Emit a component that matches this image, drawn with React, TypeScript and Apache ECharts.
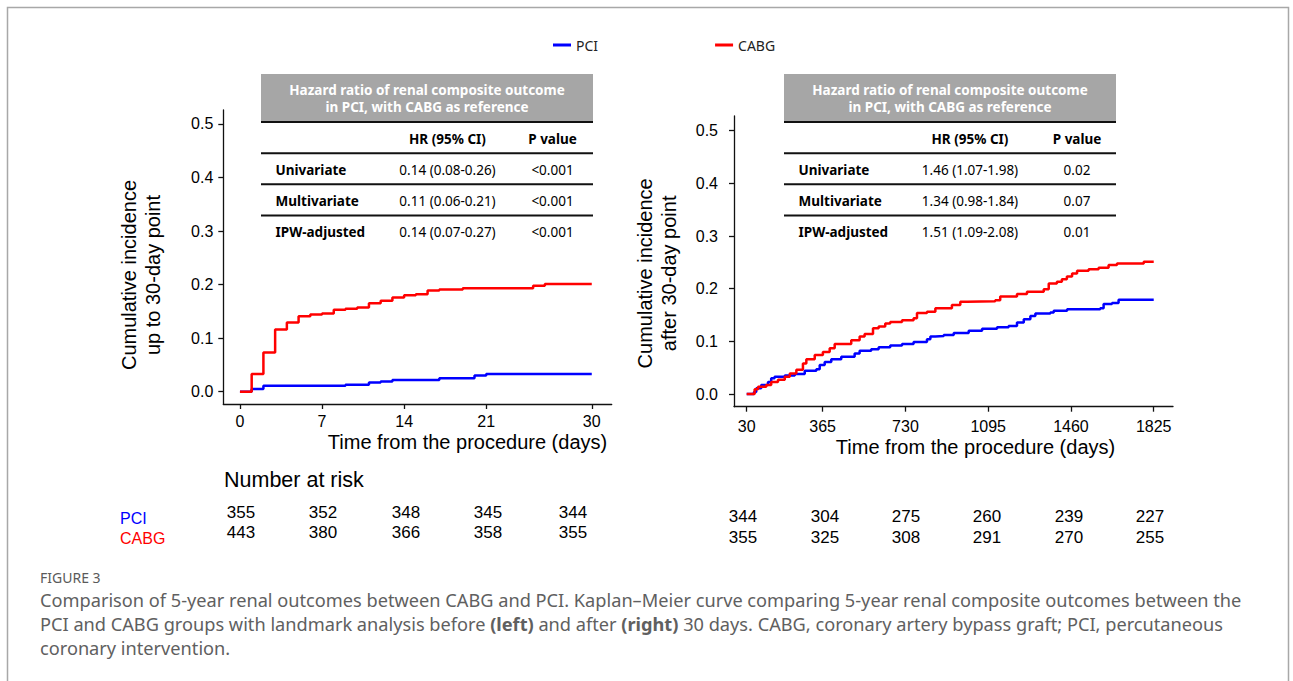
import React, { useEffect, useRef } from "react";
import * as echarts from "echarts";

// ---------- Data ----------
const seriesNames = ["PCI", "CABG"];
const seriesColors = ["#0000ff", "#ff0000"];

// Left panel (landmark up to 30 days)
const leftPciDays = [0, 1, 2, 9, 11, 12, 13, 17, 20, 21, 30];
const leftPciInc = [0, 0.005, 0.011, 0.013, 0.017, 0.019, 0.022, 0.025, 0.03, 0.033, 0.033];
const leftCabgDays = [0, 1, 2, 3, 4, 5, 6, 7, 8, 9, 10, 11, 12, 13, 14, 15, 16, 17, 19, 25, 26, 30];
const leftCabgInc = [0, 0.033, 0.073, 0.116, 0.129, 0.141, 0.144, 0.146, 0.153, 0.155, 0.157, 0.165, 0.17, 0.176, 0.18, 0.182, 0.189, 0.191, 0.193, 0.198, 0.201, 0.201];

// Right panel (after 30 days)
const rightPciDays = [30, 62, 72, 94, 124, 138, 153, 198, 242, 286, 337, 352, 374, 403, 447, 506, 528, 579, 612, 663, 715, 766, 825, 840, 862, 899, 943, 1009, 1068, 1134, 1185, 1222, 1252, 1281, 1303, 1369, 1384, 1443, 1589, 1604, 1641, 1670, 1825];
const rightPciInc = [0, 0.004, 0.011, 0.017, 0.023, 0.03, 0.033, 0.035, 0.038, 0.044, 0.047, 0.055, 0.061, 0.066, 0.071, 0.077, 0.082, 0.085, 0.089, 0.092, 0.095, 0.099, 0.104, 0.109, 0.11, 0.112, 0.116, 0.12, 0.124, 0.127, 0.129, 0.136, 0.142, 0.148, 0.153, 0.155, 0.158, 0.161, 0.163, 0.171, 0.173, 0.179, 0.179];
const rightCabgDays = [30, 65, 80, 116, 138, 168, 198, 220, 249, 278, 293, 330, 366, 396, 418, 491, 528, 550, 587, 612, 641, 663, 715, 766, 781, 825, 862, 935, 972, 1002, 1126, 1148, 1222, 1266, 1340, 1362, 1398, 1420, 1442, 1465, 1487, 1538, 1582, 1626, 1663, 1781, 1825];
const rightCabgInc = [0, 0.009, 0.014, 0.017, 0.023, 0.027, 0.033, 0.039, 0.046, 0.058, 0.066, 0.074, 0.08, 0.087, 0.095, 0.102, 0.109, 0.114, 0.125, 0.128, 0.134, 0.137, 0.14, 0.144, 0.154, 0.156, 0.163, 0.169, 0.175, 0.176, 0.178, 0.185, 0.19, 0.194, 0.199, 0.21, 0.213, 0.218, 0.223, 0.229, 0.234, 0.237, 0.24, 0.245, 0.248, 0.251, 0.251];

// Ticks
const leftXTicks = [0, 7, 14, 21, 30];
const rightXTicks = [30, 365, 730, 1095, 1460, 1825];
const yTicks = [0, 0.1, 0.2, 0.3, 0.4, 0.5];
const yTickLabels = ["0.0", "0.1", "0.2", "0.3", "0.4", "0.5"];

// Hazard ratio tables
const tableTitle = ["Hazard ratio of renal composite outcome", "in PCI, with CABG as reference"];
const tableColumns = ["HR (95% CI)", "P value"];
const tableRows = ["Univariate", "Multivariate", "IPW-adjusted"];
const leftHR = ["0.14 (0.08-0.26)", "0.11 (0.06-0.21)", "0.14 (0.07-0.27)"];
const leftP = ["<0.001", "<0.001", "<0.001"];
const rightHR = ["1.46 (1.07-1.98)", "1.34 (0.98-1.84)", "1.51 (1.09-2.08)"];
const rightP = ["0.02", "0.07", "0.01"];

// Number at risk
const riskTitle = "Number at risk";
const leftRiskPci = [355, 352, 348, 345, 344];
const leftRiskCabg = [443, 380, 366, 358, 355];
const rightRiskPci = [344, 304, 275, 260, 239, 227];
const rightRiskCabg = [355, 325, 308, 291, 270, 255];

// Caption
const figureLabel = "FIGURE 3";
const captionLines = [
  "Comparison of 5-year renal outcomes between CABG and PCI. Kaplan\u2013Meier curve comparing 5-year renal composite outcomes between the",
  "PCI and CABG groups with landmark analysis before {b|(left)} and after {b|(right)} 30 days. CABG, coronary artery bypass graft; PCI, percutaneous",
  "coronary intervention.",
];

// ---------- Helpers ----------
const ARIAL = "Liberation Sans, Arial, sans-serif";
const TABLE_FONT = "Noto Sans, Noto Sans CJK KR, sans-serif";
const CAPTION_FONT = "Noto Sans, Open Sans, sans-serif";

const pairs = (xs: number[], ys: number[]) => xs.map((x, i) => [x, ys[i]]);

function text(x: number, y: number, t: string, o: any = {}) {
  return {
    type: "text",
    x,
    y,
    silent: true,
    style: {
      text: t,
      fill: o.fill || "#000",
      fontSize: o.fontSize || 13,
      fontFamily: o.fontFamily || TABLE_FONT,
      fontWeight: o.fontWeight || "normal",
      align: o.align || "left",
      verticalAlign: "middle",
      rich: o.rich,
    },
  };
}

function hline(x1: number, x2: number, y: number, w = 2, color = "#111") {
  return {
    type: "line",
    silent: true,
    shape: { x1, y1: y, x2, y2: y },
    style: { stroke: color, lineWidth: w },
  };
}

function hrTable(x0: number, x1: number, labelX: number, hrX: number, pX: number, hr: string[], pv: string[]) {
  const els: any[] = [];
  els.push({ type: "rect", silent: true, shape: { x: x0, y: 74, width: x1 - x0, height: 47 }, style: { fill: "#a6a6a6" } });
  els.push(text((x0 + x1) / 2, 90, tableTitle[0], { fill: "#fff", fontWeight: "bold", align: "center", fontSize: 13.5 }));
  els.push(text((x0 + x1) / 2, 106.5, tableTitle[1], { fill: "#fff", fontWeight: "bold", align: "center", fontSize: 13.5 }));
  els.push(hline(x0, x1, 122));
  els.push(text(hrX, 139, tableColumns[0], { fontWeight: "bold", align: "center", fontSize: 13.5 }));
  els.push(text(pX, 139, tableColumns[1], { fontWeight: "bold", align: "center", fontSize: 13.5 }));
  const rowY = [169.5, 200.5, 231.5];
  const lineY = [153.3, 184.3, 215.5];
  tableRows.forEach((r, i) => {
    els.push(hline(x0, x1, lineY[i]));
    els.push(text(labelX, rowY[i], r, { fontWeight: "bold", fontSize: 13.5 }));
    els.push(text(hrX, rowY[i], hr[i], { align: "center", fontSize: 13.5 }));
    els.push(text(pX, rowY[i], pv[i], { align: "center", fontSize: 13.5 }));
  });
  return els;
}

function xAxisCfg(gridIndex: number, min: number, max: number, ticks: number[], margin: number, nameGap: number, padLeft: number) {
  return {
    type: "value",
    gridIndex,
    min,
    max,
    axisLine: { show: true, onZero: false, lineStyle: { color: "#111", width: 1.3 } },
    axisTick: { show: true, length: 5, customValues: ticks, lineStyle: { color: "#111", width: 1.3 } },
    axisLabel: { customValues: ticks, margin, fontSize: 16, color: "#000", fontFamily: ARIAL, formatter: (v: number) => String(v) },
    splitLine: { show: false },
    name: "Time from the procedure (days)",
    nameLocation: "middle",
    nameGap,
    nameTextStyle: { fontSize: 20, fontFamily: ARIAL, color: "#000", padding: [0, 0, 0, padLeft] },
  };
}

function yAxisCfg(gridIndex: number, min: number, max: number, margin: number, name: string, nameGap: number, padRight: number) {
  return {
    type: "value",
    gridIndex,
    min,
    max,
    axisLine: { show: true, onZero: false, lineStyle: { color: "#111", width: 1.3 } },
    axisTick: { show: true, length: 5, customValues: yTicks, lineStyle: { color: "#111", width: 1.3 } },
    axisLabel: {
      customValues: yTicks,
      margin,
      fontSize: 16,
      color: "#000",
      fontFamily: ARIAL,
      formatter: (v: number) => {
        const i = yTicks.findIndex((t) => Math.abs(t - v) < 1e-6);
        return i >= 0 ? yTickLabels[i] : "";
      },
    },
    splitLine: { show: false },
    name,
    nameLocation: "middle",
    nameRotate: 90,
    nameGap,
    nameTextStyle: { fontSize: 20, fontFamily: ARIAL, color: "#000", lineHeight: 24, padding: [0, padRight, 0, 0] },
  };
}

function kmSeries(name: string, color: string, data: number[][], idx: number) {
  return {
    type: "line",
    name,
    xAxisIndex: idx,
    yAxisIndex: idx,
    step: "end",
    symbol: "none",
    data,
    color,
    lineStyle: { color, width: 2.5 },
    emphasis: { disabled: true },
  };
}

export default function App() {
  const ref = useRef<HTMLDivElement>(null);

  useEffect(() => {
    if (!ref.current) return;
    const chart = echarts.init(ref.current, undefined, { renderer: "svg" });

    const graphic: any[] = [];
    // outer frame
    graphic.push({
      type: "rect",
      silent: true,
      shape: { x: 7.5, y: 7.5, width: 1281, height: 720 },
      style: { fill: "none", stroke: "#a8a8a8", lineWidth: 1.5 },
    });
    graphic.push(...hrTable(261, 593, 275.5, 447.5, 552.5, leftHR, leftP));
    graphic.push(...hrTable(784, 1116, 798.5, 970, 1077, rightHR, rightP));

    // Number at risk
    graphic.push(text(224, 480, riskTitle, { fontSize: 21.5, fontFamily: ARIAL }));
    graphic.push(text(120, 518, seriesNames[0], { fontSize: 16, fontFamily: ARIAL, fill: seriesColors[0] }));
    graphic.push(text(120, 538, seriesNames[1], { fontSize: 16, fontFamily: ARIAL, fill: seriesColors[1] }));
    const leftCols = [241, 323, 406, 488, 573];
    const rightCols = [743, 825, 906, 987, 1069, 1150];
    leftRiskPci.forEach((v, i) => graphic.push(text(leftCols[i], 512, String(v), { fontSize: 17, fontFamily: ARIAL, align: "center" })));
    leftRiskCabg.forEach((v, i) => graphic.push(text(leftCols[i], 532, String(v), { fontSize: 17, fontFamily: ARIAL, align: "center" })));
    rightRiskPci.forEach((v, i) => graphic.push(text(rightCols[i], 516, String(v), { fontSize: 17, fontFamily: ARIAL, align: "center" })));
    rightRiskCabg.forEach((v, i) => graphic.push(text(rightCols[i], 537, String(v), { fontSize: 17, fontFamily: ARIAL, align: "center" })));

    // Caption
    graphic.push(text(40, 577, figureLabel, { fontSize: 14, fontFamily: CAPTION_FONT, fill: "#5a5a5a" }));
    const capY = [600, 624, 648];
    captionLines.forEach((l, i) =>
      graphic.push(
        text(40, capY[i], l, {
          fontSize: 18.2,
          fontFamily: CAPTION_FONT,
          fill: "#606060",
          rich: { b: { fontWeight: "bold", fontSize: 18.2, fontFamily: CAPTION_FONT, fill: "#606060" } },
        })
      )
    );

    chart.setOption({
      animation: false,
      backgroundColor: "#fff",
      legend: {
        data: seriesNames,
        left: 548,
        top: 33,
        icon: "rect",
        itemWidth: 18,
        itemHeight: 3,
        itemGap: 117,
        textStyle: { fontSize: 14, fontFamily: TABLE_FONT, color: "#222" },
        selectedMode: false,
      },
      grid: [
        { left: 223.3, top: 110, width: 388.4, height: 294 },
        { left: 734, top: 116, width: 439, height: 290.7 },
      ],
      xAxis: [
        xAxisCfg(0, -1.42, 31.7, leftXTicks, 9, 28, 100),
        xAxisCfg(1, -26, 1910, rightXTicks, 12, 30, 44),
      ],
      yAxis: [
        yAxisCfg(0, -0.023, 0.526, 10, "Cumulative incidence\nup to 30-day point", 58, 36),
        yAxisCfg(1, -0.0241, 0.528, 16, "Cumulative incidence\nafter 30-day point", 53, 24),
      ],
      series: [
        kmSeries(seriesNames[0], seriesColors[0], pairs(leftPciDays, leftPciInc), 0),
        kmSeries(seriesNames[1], seriesColors[1], pairs(leftCabgDays, leftCabgInc), 0),
        kmSeries(seriesNames[0], seriesColors[0], pairs(rightPciDays, rightPciInc), 1),
        kmSeries(seriesNames[1], seriesColors[1], pairs(rightCabgDays, rightCabgInc), 1),
      ],
      graphic,
    });

    return () => chart.dispose();
  }, []);

  return (
    <div
      ref={ref}
      style={{ position: "fixed", left: 0, top: 0, width: 1293, height: 681, background: "#fff" }}
    />
  );
}
